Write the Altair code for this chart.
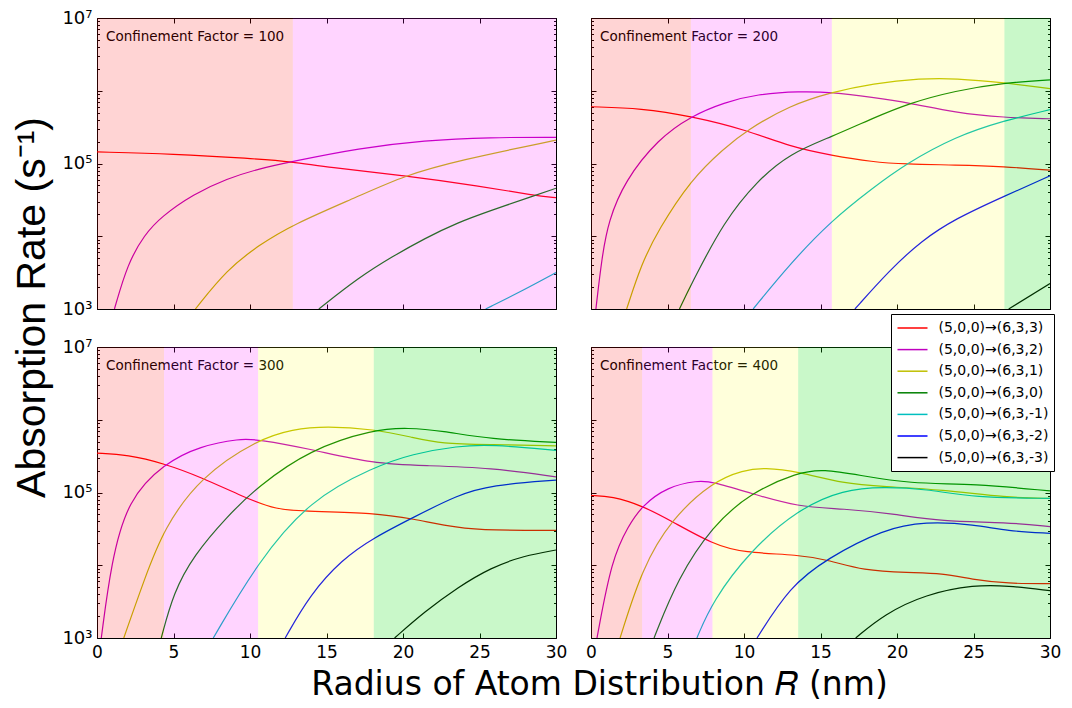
import altair as alt
import pandas as pd

FACTORS = [100, 200, 300, 400]
SERIES = ["(5,0,0)→(6,3,3)", "(5,0,0)→(6,3,2)", "(5,0,0)→(6,3,1)", "(5,0,0)→(6,3,0)",
          "(5,0,0)→(6,3,-1)", "(5,0,0)→(6,3,-2)", "(5,0,0)→(6,3,-3)"]
COLORS = ["#ff0000", "#bf00bf", "#bfbf00", "#008000", "#00bfbf", "#0000ff", "#000000"]

# Confinement factor 100: series -> (R values, absorption rates)
CF100 = {
    SERIES[0]: ([0, 5, 10, 12.8, 15, 20.1, 25, 28.6, 30],
                [1.445e5, 1.35e5, 1.175e5, 1.06e5, 8.9e4, 6.84e4, 4.9e4, 3.63e4, 3.39e4]),
    SERIES[1]: ([1.14, 2.0, 3.1, 4.2, 6.3, 8.5, 10.6, 12.8, 17.1, 21.4, 25.7, 30],
                [1e3, 4.2e3, 1.05e4, 1.86e4, 3.8e4, 6.2e4, 8.5e4, 1.07e5, 1.62e5, 2.09e5, 2.29e5, 2.29e5]),
    SERIES[2]: ([6.43, 8.5, 10.6, 12.8, 17.1, 20.1, 23.6, 30],
                [1e3, 3.5e3, 7.6e3, 1.45e4, 3.55e4, 6.84e4, 1.1e5, 2.09e5]),
    SERIES[3]: ([14.5, 17.1, 19.3, 21.4, 23.6, 25.7, 28.6, 30],
                [1e3, 2.7e3, 5.25e3, 9.3e3, 1.55e4, 2.24e4, 3.63e4, 4.57e4]),
    SERIES[4]: ([25.4, 27.9, 30], [1e3, 1.82e3, 3.16e3]),
}

CF200 = {
    SERIES[0]: ([0, 3.3, 6.53, 10.2, 13.0, 15.74, 18.4, 20.55, 23.8, 27.0, 30],
                [6.03e5, 5.75e5, 4.47e5, 2.88e5, 1.70e5, 1.29e5, 1.05e5, 9.8e4, 9.55e4, 9.1e4, 8.1e4]),
    SERIES[1]: ([0.32, 0.71, 1.14, 2.2, 4.4, 6.53, 8.7, 10.85, 13.65, 15.74, 18.4, 20.8, 23.8, 27, 30],
                [1e3, 5.1e3, 1.62e4, 5.75e4, 2.19e5, 4.47e5, 6.9e5, 9.0e5, 9.8e5, 9.55e5, 8.1e5, 6.8e5, 5.0e5, 4.27e5, 4.12e5]),
    SERIES[2]: ([2.33, 3.3, 4.38, 6.53, 8.7, 10.2, 13.0, 15.74, 18.4, 21.6, 23.8, 27, 30],
                [1e3, 4.17e3, 1.2e4, 6.03e4, 1.62e5, 2.88e5, 6.3e5, 9.55e5, 1.26e6, 1.48e6, 1.48e6, 1.29e6, 1.07e6]),
    SERIES[3]: ([5.78, 6.53, 8.7, 10.85, 13.0, 15.74, 18.4, 20.8, 23.8, 27, 30],
                [1e3, 2.14e3, 1.62e4, 5.75e4, 1.38e5, 2.34e5, 4.17e5, 6.76e5, 1.0e6, 1.29e6, 1.41e6]),
    SERIES[4]: ([10.6, 13.0, 15.74, 18.4, 20.55, 23.8, 27, 30],
                [1e3, 4.17e3, 1.66e4, 4.57e4, 9.8e4, 2.34e5, 3.89e5, 5.5e5]),
    SERIES[5]: ([17.25, 19.5, 21.6, 23.8, 27, 30],
                [1e3, 3.39e3, 8.7e3, 1.74e4, 3.55e4, 6.76e4]),
    SERIES[6]: ([27.3, 30], [1e3, 2.24e3]),
}

CF300 = {
    SERIES[0]: ([0, 2, 4.38, 6.76, 9.56, 11.7, 13.9, 18.1, 20.6, 23.6, 25.75, 30],
                [3.47e5, 3.31e5, 2.51e5, 1.64e5, 8.7e4, 5.75e4, 5.5e4, 5.25e4, 4.37e4, 3.24e4, 3.02e4, 3.02e4]),
    SERIES[1]: ([0.28, 0.93, 2.0, 4.38, 6.76, 9.35, 10.5, 13.9, 18.1, 21.4, 25.75, 30],
                [1e3, 1.1e4, 7.9e4, 2.51e5, 4.37e5, 5.5e5, 5.37e5, 3.98e5, 2.48e5, 2.34e5, 2.19e5, 1.64e5]),
    SERIES[2]: ([1.75, 3.1, 4.38, 6.76, 10.5, 12.8, 14.96, 18.1, 20.6, 22.5, 25.75, 30],
                [1e3, 6.46e3, 3.24e4, 1.64e5, 5.37e5, 7.41e5, 8.2e5, 7.41e5, 5.75e5, 4.68e5, 4.57e5, 4.37e5]),
    SERIES[3]: ([4.2, 5.0, 6.3, 8.5, 10.5, 13.9, 18.1, 20.35, 22.5, 25.75, 30],
                [1e3, 4.2e3, 1.35e4, 4.68e4, 1.2e5, 3.89e5, 7.41e5, 7.76e5, 7.08e5, 5.37e5, 4.9e5]),
    SERIES[4]: ([7.6, 10.5, 13.9, 18.1, 20.6, 23.6, 25.75, 30],
                [1e3, 1.1e4, 7.9e4, 2.24e5, 3.39e5, 4.37e5, 4.57e5, 3.8e5]),
    SERIES[5]: ([12.3, 13.9, 16.0, 18.1, 20.6, 23.6, 25.75, 30],
                [1e3, 3.89e3, 1.2e4, 2.4e4, 4.47e4, 9.3e4, 1.26e5, 1.48e5]),
    SERIES[6]: ([19.45, 21.4, 23.6, 25.75, 27.9, 30],
                [1e3, 2.29e3, 5.0e3, 9.3e3, 1.35e4, 1.62e4]),
}

CF400 = {
    SERIES[0]: ([0, 1.36, 3.34, 5.24, 7.94, 9.98, 13.54, 15.6, 17.75, 20.77, 22.9, 25.1, 27.2, 30],
                [9.1e4, 8.9e4, 6.6e4, 4.07e4, 1.95e4, 1.48e4, 1.4e4, 1.17e4, 8.5e3, 7.9e3, 7.8e3, 6.3e3, 5.6e3, 5.6e3]),
    SERIES[1]: ([0.39, 1.36, 2.44, 3.34, 5.0, 6.97, 7.94, 10.4, 13.54, 16.5, 19.7, 22.9, 27.2, 30],
                [1e3, 1.23e4, 3.47e4, 6.6e4, 1.2e5, 1.46e5, 1.41e5, 9.8e4, 6.3e4, 6.0e4, 5.1e4, 4.0e4, 3.9e4, 3.4e4]),
    SERIES[2]: ([1.9, 3.34, 5.24, 7.94, 9.98, 11.3, 13.54, 16.5, 19.15, 22.9, 27.2, 30],
                [1e3, 9.1e3, 4.27e4, 1.41e5, 2.04e5, 2.19e5, 1.95e5, 1.32e5, 1.2e5, 1.1e5, 8.5e4, 8.3e4]),
    SERIES[3]: ([4.12, 5.67, 7.94, 10.4, 13.54, 15.2, 17.5, 20.77, 25.1, 30],
                [1e3, 6.6e3, 3.47e4, 9.8e4, 1.91e5, 2.09e5, 1.74e5, 1.32e5, 1.32e5, 1.05e5]),
    SERIES[4]: ([6.92, 7.94, 10.4, 13.54, 16.5, 19.15, 21.85, 25.1, 30],
                [1e3, 3.2e3, 1.58e4, 5.9e4, 1.1e5, 1.2e5, 1.12e5, 8.5e4, 8.3e4]),
    SERIES[5]: ([10.85, 13.0, 15.4, 19.15, 21.85, 25.1, 27.2, 30],
                [1e3, 5.1e3, 1.23e4, 3.16e4, 4.0e4, 3.63e4, 2.95e4, 2.75e4]),
    SERIES[6]: ([17.3, 19.15, 21.85, 25.1, 27.2, 30],
                [1e3, 2.11e3, 4.0e3, 5.4e3, 5.25e3, 4.47e3]),
}

PANEL_DATA = {100: CF100, 200: CF200, 300: CF300, 400: CF400}

# shaded regions (edges along R) per confinement factor
SPAN_EDGES = {100: [0, 12.8, 30], 200: [0, 6.53, 15.74, 27.02, 30],
              300: [0, 4.38, 10.53, 18.09, 30], 400: [0, 3.34, 7.94, 13.54, 30]}
SPAN_FILLS = ["#ff0000", "#ff00ff", "#ffff00", "#00dc00"]
SPAN_ALPHA = [0.17, 0.17, 0.14, 0.21]

XTICKS = [0, 5, 10, 15, 20, 25, 30]
YMAJOR = [1e3, 1e4, 1e5, 1e6, 1e7]
YMINOR = [m * 10 ** e for e in (3, 4, 5, 6) for m in range(2, 10)]

W, H = 459, 291

rows = []
for cf, series in PANEL_DATA.items():
    for name, (xs_, ys_) in series.items():
        for xv, yv in zip(xs_, ys_):
            rows.append({"cf": cf, "series": name, "x": xv, "y": yv})
lines = pd.DataFrame(rows)

srows = []
for cf, edges in SPAN_EDGES.items():
    for k in range(len(edges) - 1):
        srows.append({"cf": cf, "x0": edges[k], "x1": edges[k + 1],
                      "fill": SPAN_FILLS[k], "op": SPAN_ALPHA[k]})
spans = pd.DataFrame(srows)

ax_df = pd.DataFrame({"x": [0, 30], "y": [1e3, 1e7]})

COMMON = dict(domain=False, grid=False, tickColor="black", tickWidth=1,
              labelColor="black", labelFont="DejaVu Sans",
              labelFlush=False, labelOverlap=False)

YLABEL = ("datum.value < 2000 ? '10³' : (datum.value > 5e4 && datum.value < 2e5) ? '10⁵'"
          " : datum.value > 5e6 ? '10⁷' : ''")


def panel(i):
    cf = FACTORS[i]
    left = i % 2 == 0
    bottom = i >= 2
    xs = alt.Scale(domain=[0, 30], nice=False, zero=False)
    ys = alt.Scale(type="log", domain=[1e3, 1e7], nice=False)
    d = lines[lines.cf == cf]
    s = spans[spans.cf == cf]

    xkw = dict(COMMON, orient="bottom", values=XTICKS, tickSize=5, offset=-5,
               labels=bottom, labelPadding=6, labelFontSize=17, title=None)
    if i == 2:
        xkw.update(title="Radius of Atom Distribution 𝑅 (nm)", titleX=502, titleY=51,
                   titleAlign="center", titleBaseline="middle", titleFont="DejaVu Sans",
                   titleFontSize=33, titleFontWeight="normal", titleColor="black")
    ykw = dict(COMMON, orient="left", values=YMAJOR, tickSize=5, offset=-5,
               labels=left, labelPadding=5, labelFontSize=18, labelExpr=YLABEL, title=None)
    if i == 0:
        ykw.update(title="Absorption Rate (s⁻¹)", titleX=-70, titleY=289, titleAngle=270,
                   titleAlign="center", titleBaseline="middle", titleFont="Liberation Sans",
                   titleFontSize=41, titleFontWeight="normal", titleColor="black")

    if i == 3:
        leg = alt.Legend(orient="none", legendX=300, legendY=-33, title=None,
                         direction="vertical", symbolType="M-1,0H3", symbolSize=225,
                         symbolStrokeWidth=1.5, labelFont="DejaVu Sans", labelFontSize=14,
                         labelColor="black", labelOffset=25, strokeColor="black",
                         fillColor="white", padding=5.5, rowPadding=5.6, cornerRadius=0,
                         labelLimit=300)
    else:
        leg = None

    line_layer = alt.Chart(d).mark_line(strokeWidth=1.2, interpolate="basis", clip=True).encode(
        x=alt.X("x:Q", scale=xs, axis=alt.Axis(**xkw)),
        y=alt.Y("y:Q", scale=ys, axis=alt.Axis(**ykw)),
        color=alt.Color("series:N", scale=alt.Scale(domain=SERIES, range=COLORS), legend=leg),
    )

    txt = alt.Chart(pd.DataFrame({"t": [f"Confinement Factor = {cf}"]})).mark_text(
        align="left", baseline="middle", font="DejaVu Sans", fontSize=13.5, color="black"
    ).encode(x=alt.value(9), y=alt.value(19), text="t:N")

    rects = alt.Chart(s).mark_rect().encode(
        x=alt.X("x0:Q", scale=xs, axis=None),
        x2="x1:Q",
        fill=alt.Fill("fill:N", scale=None),
        opacity=alt.Opacity("op:Q", scale=None),
    )

    def ghost(xaxis, yaxis):
        return alt.Chart(ax_df).mark_point(opacity=0).encode(
            x=alt.X("x:Q", scale=xs, axis=xaxis),
            y=alt.Y("y:Q", scale=ys, axis=yaxis),
        )

    y_left_minor = alt.Axis(**dict(COMMON, orient="left", values=YMINOR, tickSize=2.5,
                                   offset=-2.5, labels=False, title=None))
    y_right_major = alt.Axis(**dict(COMMON, orient="right", values=YMAJOR, tickSize=5,
                                    offset=-5, labels=False, title=None))
    y_right_minor = alt.Axis(**dict(COMMON, orient="right", values=YMINOR, tickSize=2.5,
                                    offset=-2.5, labels=False, title=None))
    x_top = alt.Axis(**dict(COMMON, orient="top", values=XTICKS, tickSize=5, offset=-5,
                            labels=False, title=None))

    return alt.layer(
        line_layer, txt, rects,
        ghost(None, y_left_minor), ghost(None, y_right_major),
        ghost(None, y_right_minor), ghost(x_top, None),
    ).resolve_axis(x="independent", y="independent").properties(width=W, height=H)


chart = alt.concat(
    *[panel(i) for i in range(4)], columns=2,
    spacing={"row": 38, "column": 35}, bounds="flush",
).resolve_scale(color="independent").properties(
    padding={"left": 2, "top": 0, "right": 2, "bottom": 0},
    background="white",
).configure_view(stroke="black", strokeWidth=1)

chart.save("out.html", embed_options={"renderer": "svg", "actions": False})
